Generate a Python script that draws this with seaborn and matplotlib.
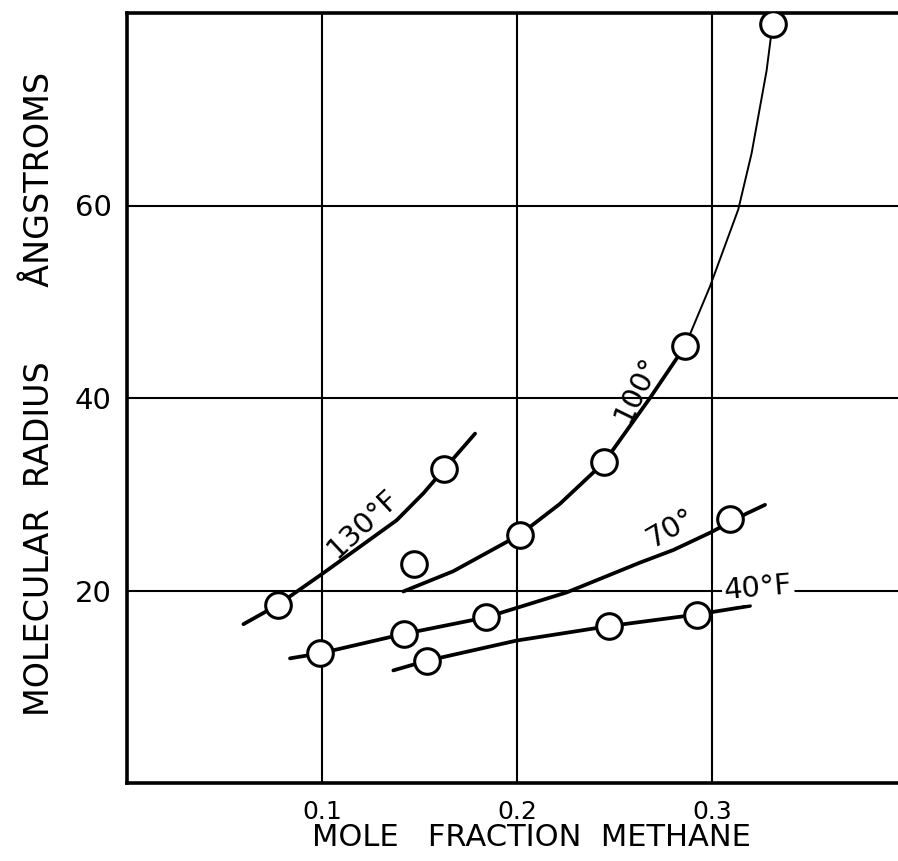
import matplotlib
matplotlib.use("Agg")
import matplotlib.pyplot as plt
import seaborn as sns
import pandas as pd

# ---- data ----
x130 = [0.0597, 0.0773, 0.1006, 0.1212, 0.1383, 0.152, 0.1626, 0.1785]
y130 = [16.5, 18.5, 21.8, 24.8, 27.3, 30.1, 32.6, 36.3]
pts130_x = [0.0773, 0.1626]
pts130_y = [18.5, 32.6]

x100 = [0.1417, 0.1673, 0.2015, 0.222, 0.2446, 0.2682, 0.2862]
y100 = [19.9, 22.0, 25.8, 29.0, 33.3, 40.0, 45.4]
x100_thin = [0.2862, 0.299, 0.3135, 0.3203, 0.328, 0.3311]
y100_thin = [45.4, 51.6, 59.6, 65.4, 74.0, 78.9]
pts100_x = [0.1472, 0.2015, 0.2446, 0.2862, 0.3311]
pts100_y = [22.8, 25.8, 33.3, 45.4, 78.9]

x70 = [0.0836, 0.099, 0.1422, 0.184, 0.2255, 0.2631, 0.2801, 0.299, 0.3178, 0.3272]
y70 = [12.95, 13.47, 15.5, 17.2, 19.8, 22.9, 24.2, 26.0, 28.0, 28.9]
pts70_x = [0.099, 0.1422, 0.184, 0.3092]
pts70_y = [13.47, 15.5, 17.2, 27.4]

x40 = [0.1366, 0.1537, 0.1998, 0.2472, 0.2921, 0.3195]
y40 = [11.7, 12.7, 14.8, 16.3, 17.5, 18.4]
pts40_x = [0.1537, 0.2472, 0.2921]
pts40_y = [12.7, 16.3, 17.5]

xticks = [0.1, 0.2, 0.3]
xtick_labels = ["0.1", "0.2", "0.3"]
yticks = [20, 40, 60]
ytick_labels = ["20", "40", "60"]

curve_labels = ["130°F", "100°", "70°", "40°F"]

# ---- figure ----
sns.set_theme(style="white")
plt.rcParams["font.family"] = ["DejaVu Sans"]

fig = plt.figure(figsize=(8.98, 8.61), dpi=100)
ax = fig.add_axes([127 / 898, 1 - 783 / 861, (898 - 127) / 898, (783 - 13) / 861])

line_kw = dict(color="black", sort=False, estimator=None, ax=ax, legend=False)
sns.lineplot(x=x130, y=y130, lw=2.7, zorder=3, **line_kw)
sns.lineplot(x=x100, y=y100, lw=2.7, zorder=3, **line_kw)
sns.lineplot(x=x100_thin, y=y100_thin, lw=1.4, zorder=3, **line_kw)
sns.lineplot(x=x70, y=y70, lw=2.7, zorder=3, **line_kw)
sns.lineplot(x=x40, y=y40, lw=2.7, zorder=3, **line_kw)

pts = pd.DataFrame({
    "x": pts130_x + pts100_x + pts70_x + pts40_x,
    "y": pts130_y + pts100_y + pts70_y + pts40_y,
})
sns.scatterplot(data=pts, x="x", y="y", ax=ax, s=340, marker="o",
                facecolor="white", edgecolor="black", linewidth=2.2,
                zorder=5, clip_on=True, legend=False)

ax.set_xlim(0, 0.3954)
ax.set_ylim(0, 80)
ax.set_xticks(xticks)
ax.set_xticklabels(xtick_labels)
ax.set_yticks(yticks)
ax.set_yticklabels(ytick_labels)
ax.tick_params(axis="both", length=0, colors="black")
ax.tick_params(axis="x", labelsize=18, pad=12)
ax.tick_params(axis="y", labelsize=21, pad=11)

ax.grid(True, color="black", lw=1.5, zorder=1)
ax.set_axisbelow(True)
for side in ["left", "bottom", "top"]:
    ax.spines[side].set_visible(True)
    ax.spines[side].set_color("black")
    ax.spines[side].set_linewidth(2.6)
ax.spines["right"].set_visible(False)

ax.set_xlabel("MOLE   FRACTION  METHANE", fontsize=22, color="black")
ax.xaxis.label.set(va="center", ha="center")
ax.xaxis.set_label_coords((531 - 127) / 771, (783 - 837) / 770)

ax.set_ylabel("MOLECULAR  RADIUS       ÅNGSTROMS", fontsize=24, color="black")
ax.yaxis.label.set(va="center", ha="center")
ax.yaxis.set_label_coords((40 - 127) / 771, (783 - 394) / 770)

txt_kw = dict(ha="center", va="center", rotation_mode="anchor", color="black", zorder=4)
ax.text(0.121, 27.0, curve_labels[0], fontsize=21, rotation=43, **txt_kw)
ax.text(0.2615, 40.9, curve_labels[1], fontsize=21, rotation=64, **txt_kw)
ax.text(0.279, 26.5, curve_labels[2], fontsize=21, rotation=30, **txt_kw)
ax.text(0.3236, 20.3, curve_labels[3], fontsize=21, rotation=5,
        bbox=dict(facecolor="white", edgecolor="none", pad=1.5), **txt_kw)

fig.savefig("out.png", dpi=100, facecolor="white")
